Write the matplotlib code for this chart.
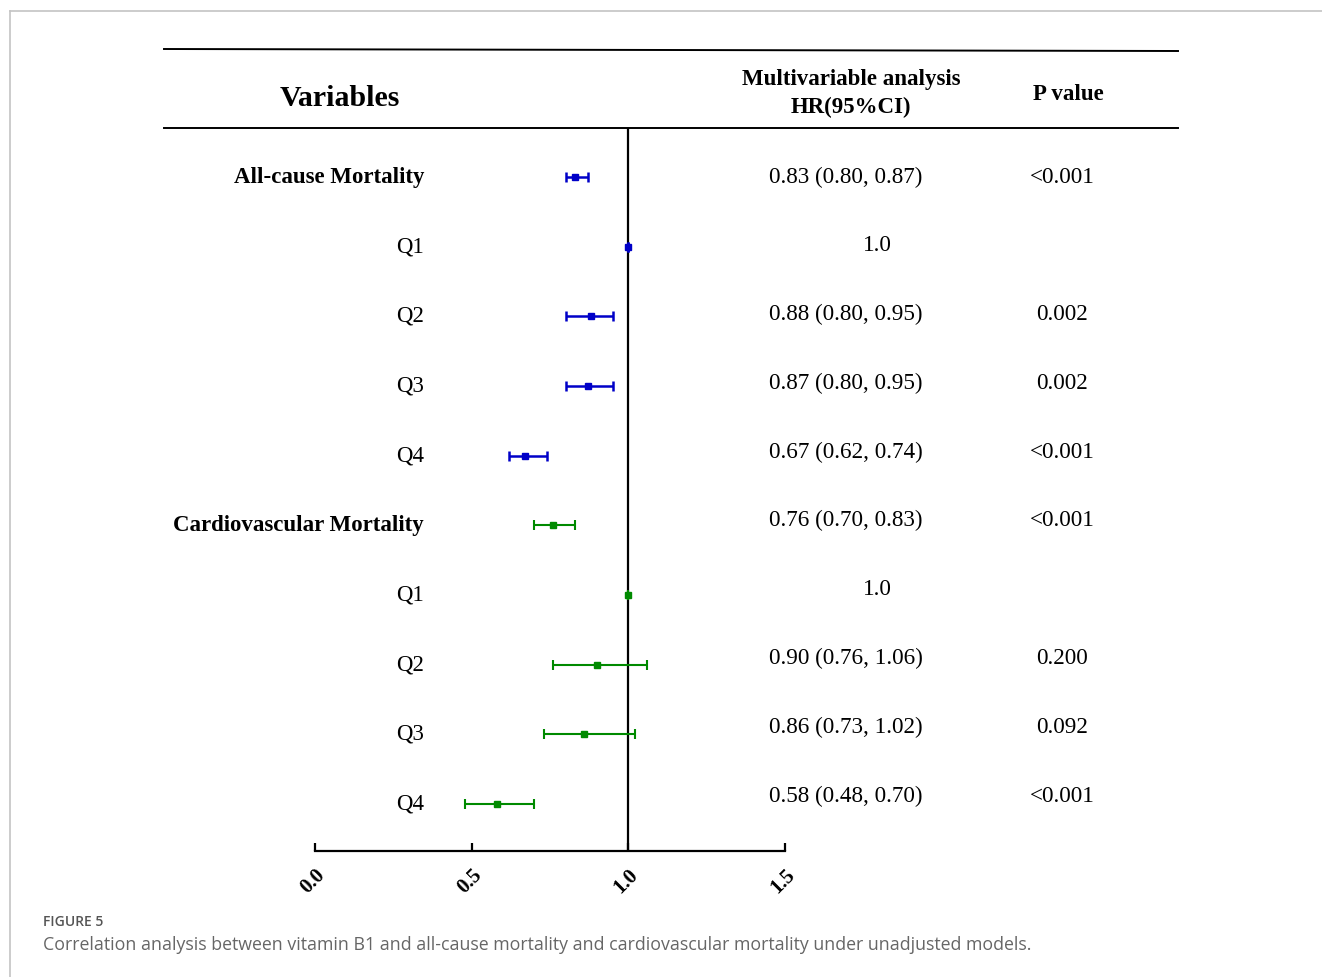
import numpy as np
import matplotlib
matplotlib.use('Agg')
import matplotlib.pyplot as plt
from matplotlib.lines import Line2D
from matplotlib.transforms import blended_transform_factory

# Forest plot data
labels = ['All-cause Mortality', 'Q1', 'Q2', 'Q3', 'Q4',
          'Cardiovascular Mortality', 'Q1', 'Q2', 'Q3', 'Q4']
bold_rows = [True, False, False, False, False, True, False, False, False, False]
hr = [0.83, 1.0, 0.88, 0.87, 0.67, 0.76, 1.0, 0.90, 0.86, 0.58]
lo = [0.80, 1.0, 0.80, 0.80, 0.62, 0.70, 1.0, 0.76, 0.73, 0.48]
hi = [0.87, 1.0, 0.95, 0.95, 0.74, 0.83, 1.0, 1.06, 1.02, 0.70]
hr_text = ['0.83 (0.80, 0.87)', '1.0', '0.88 (0.80, 0.95)', '0.87 (0.80, 0.95)',
           '0.67 (0.62, 0.74)', '0.76 (0.70, 0.83)', '1.0', '0.90 (0.76, 1.06)',
           '0.86 (0.73, 1.02)', '0.58 (0.48, 0.70)']
p_text = ['<0.001', '', '0.002', '0.002', '<0.001',
          '<0.001', '', '0.200', '0.092', '<0.001']
colors = ['#0000c8'] * 5 + ['#008a00'] * 5
xticks = [0.0, 0.5, 1.0, 1.5]

W, H = 1322, 977
plt.rcParams['font.family'] = ['Liberation Serif', 'DejaVu Serif']
fig = plt.figure(figsize=(W / 100, H / 100), dpi=100)

def fx(px):
    return px / W

def fy(py):
    return 1 - py / H

# page frame
fig.add_artist(Line2D([fx(10), 1], [fy(11), fy(11)], color='#c4c4c4', lw=1.2))
fig.add_artist(Line2D([fx(10), fx(10)], [fy(11), 0], color='#c4c4c4', lw=1.2))

# forest axes
ax = fig.add_axes([fx(315), fy(851), fx(785) - fx(315), fy(128) - fy(851)])
n = len(hr)
rows = np.arange(n)
step = (804 - 177) / (n - 1)
ax.set_ylim(n - 1 + (851 - 804) / step, -(177 - 128) / step)
ax.set_xlim(0, 1.5)

for i in rows:
    lw = 1.8 if colors[i] == '#0000c8' else 1.5
    ax.errorbar(hr[i], i, xerr=[[hr[i] - lo[i]], [hi[i] - hr[i]]],
                fmt='s', color=colors[i], ms=5, lw=lw, capsize=3.5,
                capthick=lw, zorder=3)
ax.axvline(1.0, color='black', lw=1.6, zorder=2)

for s in ['top', 'right', 'left']:
    ax.spines[s].set_visible(False)
ax.spines['bottom'].set_linewidth(1.6)
ax.set_yticks([])
ax.set_xticks(xticks)
ax.set_xticklabels(['%.1f' % t for t in xticks], rotation=45, ha='right',
                   va='top', fontweight='bold', fontsize=15,
                   rotation_mode='anchor')
ax.tick_params(axis='x', direction='in', length=6, width=1.6, pad=10)

# row labels
lab_tr = blended_transform_factory(fig.transFigure, ax.transData)
for i in rows:
    ax.text(fx(424), i, labels[i], transform=lab_tr, ha='right', va='center',
            fontsize=16.5, fontweight='bold' if bold_rows[i] else 'normal',
            clip_on=False)

# table columns (slightly tighter row spacing than the plot)
tab = fig.add_axes([0, fy(851), 1, fy(128) - fy(851)])
tab.axis('off')
tstep = (796 - 177) / (n - 1)
tab.set_ylim(n - 1 + (851 - 796) / tstep, -(177 - 128) / tstep)
tab.set_xlim(0, W)
for i in rows:
    x_hr = 877 if hr_text[i] == '1.0' else 846
    tab.text(x_hr, i, hr_text[i], ha='center', va='center', fontsize=16.7)
    if p_text[i]:
        tab.text(1062, i, p_text[i], ha='center', va='center', fontsize=16.7)

# header
fig.add_artist(Line2D([fx(164), fx(1178)], [fy(49), fy(51)], color='black', lw=1.4))
fig.add_artist(Line2D([fx(164), fx(1178)], [fy(128), fy(128)], color='black', lw=1.4))
fig.text(fx(340), fy(98), 'Variables', ha='center', va='center',
         fontsize=21.5, fontweight='bold')
fig.text(fx(851), fy(79), 'Multivariable analysis', ha='center', va='center',
         fontsize=16.5, fontweight='bold')
fig.text(fx(851), fy(107), 'HR(95%CI)', ha='center', va='center',
         fontsize=16.5, fontweight='bold')
fig.text(fx(1068), fy(95), 'P value', ha='center', va='center',
         fontsize=16.5, fontweight='bold')

# caption
fig.text(fx(43), fy(922), 'FIGURE 5', ha='left', va='center', fontsize=10,
         color='#555555', family='Open Sans', fontweight='semibold')
fig.text(fx(43), fy(945),
         'Correlation analysis between vitamin B1 and all-cause mortality and '
         'cardiovascular mortality under unadjusted models.',
         ha='left', va='center', fontsize=12.75, color='#666666', family='Open Sans')

fig.savefig('out.png', dpi=100)
